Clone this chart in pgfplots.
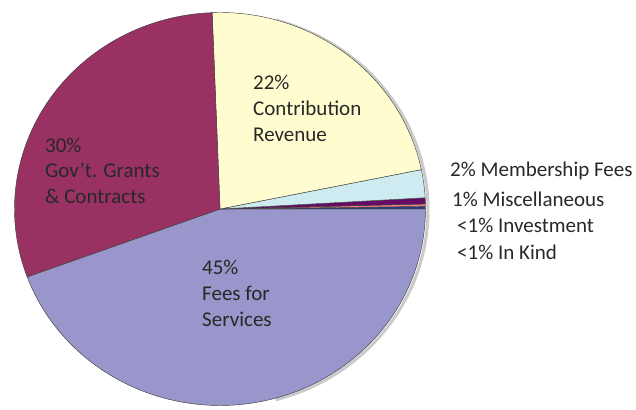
\documentclass[border=0pt]{standalone}
\usepackage{pgfplots}
\usepackage{pgfplotstable}
\pgfplotsset{compat=1.18}
\usepackage{fontspec}
\setmainfont{Carlito}

\definecolor{cFees}{RGB}{152,150,202}
\definecolor{cKind}{RGB}{40,60,130}
\definecolor{cInv}{RGB}{240,128,128}
\definecolor{cMisc}{RGB}{102,10,102}
\definecolor{cMemb}{RGB}{205,235,240}
\definecolor{cContr}{RGB}{255,253,208}
\definecolor{cGov}{RGB}{153,50,98}
\definecolor{txt}{RGB}{40,40,40}

\tikzset{lbl/.style={inner sep=0pt, anchor=base west, text=txt, font=\fontsize{21}{25}\selectfont}}

% shares in percent, counter-clockwise from the lower-left edge of "Fees for Services"
\pgfplotstableread{
label value color
Fees  44.4 cFees
Kind  0.2  cKind
Inv   0.2  cInv
Misc  0.5  cMisc
Memb  2.3  cMemb
Contr 22.4 cContr
Gov   30.0 cGov
}\slices
\pgfplotstablecreatecol[create col/expr accum={\pgfmathaccuma + \thisrow{value}}{0}]{cum}\slices

\begin{document}
\begin{tikzpicture}
\begin{axis}[
  width=636pt, height=409pt, scale only axis,
  xmin=0, xmax=636, ymin=0, ymax=409,
  hide axis, clip=false,
]
\path (rel axis cs:0,0) rectangle (rel axis cs:1,1);
% soft shadow on the right rim
\addplot[draw=black!35, line width=3pt, domain=-75:75, samples=80, opacity=0.6] ({222.5+205.5*cos(x)},{199+196.5*sin(x)});
\pgfplotsinvokeforeach{0,...,6}{
  \pgfplotstablegetelem{#1}{cum}\of\slices \let\cumv\pgfplotsretval
  \pgfplotstablegetelem{#1}{value}\of\slices \let\val\pgfplotsretval
  \pgfplotstablegetelem{#1}{color}\of\slices \let\col\pgfplotsretval
  \pgfmathsetmacro\aEnd{200.2+3.6*\cumv}
  \pgfmathsetmacro\aStart{\aEnd-3.6*\val}
  \edef\doplot{\noexpand\addplot[fill=\col, draw=black!75, line width=0.45pt, domain=\aStart:\aEnd, samples=90, variable=\noexpand\t] ({220+205.5*cos(\noexpand\t)}, {200+196.5*sin(\noexpand\t)}) -- (axis cs:220,200) -- cycle;}
  \doplot
}
\node[lbl] at (axis cs:253,319) {22\%};
\node[lbl] at (axis cs:253,293) {Contribution};
\node[lbl] at (axis cs:253,267) {Revenue};
\node[lbl] at (axis cs:45,256) {30\%};
\node[lbl] at (axis cs:45,231) {Gov’t. Grants};
\node[lbl] at (axis cs:45,205) {\& Contracts};
\node[lbl] at (axis cs:202,134) {45\%};
\node[lbl] at (axis cs:202,108) {Fees for};
\node[lbl] at (axis cs:202,82) {Services};
\node[lbl] at (axis cs:450,232) {2\% Membership Fees};
\node[lbl] at (axis cs:452,202) {1\% Miscellaneous};
\node[lbl] at (axis cs:457,176) {<1\% Investment};
\node[lbl] at (axis cs:457,149) {<1\% In Kind};
\end{axis}
\end{tikzpicture}
\end{document}
